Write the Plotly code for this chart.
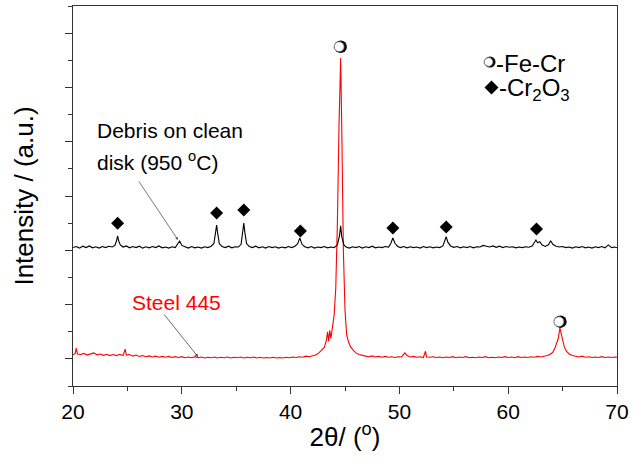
import plotly.graph_objects as go

# ---------------- data ----------------
two_theta_black = [20.0, 20.3, 20.6, 20.9, 21.2, 21.5, 21.8, 22.1, 22.4, 22.7, 23.0, 23.3, 23.6, 23.85, 24.0, 24.1, 24.2, 24.35,
                   24.6, 24.9, 25.2, 25.5, 25.8, 26.1, 26.4, 26.7, 27.0, 27.3, 27.6, 27.9, 28.2, 28.5, 28.8, 29.1, 29.4, 29.6,
                   29.8, 30.0, 30.3, 30.6, 30.9, 31.2, 31.5, 31.8, 32.1, 32.4, 32.7, 32.95, 33.1, 33.2, 33.3, 33.45, 33.7,
                   34.0, 34.3, 34.6, 34.9, 35.2, 35.45, 35.6, 35.7, 35.8, 35.95, 36.2, 36.5, 36.8, 37.1, 37.4, 37.7, 38.0,
                   38.3, 38.6, 38.9, 39.2, 39.5, 39.8, 40.1, 40.4, 40.65, 40.85, 41.05, 41.3, 41.6, 41.9, 42.2, 42.5, 42.8,
                   43.1, 43.4, 43.7, 44.0, 44.3, 44.5, 44.6, 44.7, 44.9, 45.1, 45.4, 45.7, 46.0, 46.3, 46.6, 46.9, 47.2,
                   47.5, 47.8, 48.1, 48.4, 48.7, 49.0, 49.2, 49.4, 49.6, 49.85, 50.1, 50.4, 50.7, 51.0, 51.3, 51.6, 51.9,
                   52.2, 52.5, 52.8, 53.1, 53.4, 53.7, 54.0, 54.2, 54.3, 54.45, 54.7, 55.0, 55.3, 55.6, 55.9, 56.2, 56.5,
                   56.8, 57.1, 57.4, 57.7, 58.0, 58.3, 58.6, 58.9, 59.2, 59.5, 59.8, 60.1, 60.4, 60.7, 61.0, 61.3, 61.6,
                   61.9, 62.2, 62.4, 62.55, 62.7, 62.9, 63.1, 63.4, 63.7, 63.9, 64.1, 64.4, 64.7, 65.0, 65.3, 65.6, 65.9,
                   66.2, 66.5, 66.8, 67.1, 67.4, 67.7, 68.0, 68.3, 68.6, 68.9, 69.2, 69.5, 69.8, 70.0]
intensity_black = [5.10, 5.14, 5.08, 5.15, 5.10, 5.16, 5.09, 5.13, 5.08, 5.14, 5.10, 5.15, 5.12, 5.18, 5.35, 5.53, 5.34, 5.20,
                   5.12, 5.16, 5.09, 5.14, 5.10, 5.15, 5.08, 5.13, 5.09, 5.14, 5.10, 5.16, 5.09, 5.12, 5.08, 5.13, 5.10, 5.20,
                   5.34, 5.18, 5.12, 5.08, 5.14, 5.09, 5.12, 5.08, 5.13, 5.10, 5.15, 5.25, 5.65, 5.93, 5.62, 5.24, 5.14,
                   5.10, 5.15, 5.09, 5.13, 5.12, 5.22, 5.70, 6.00, 5.65, 5.25, 5.14, 5.10, 5.15, 5.09, 5.13, 5.08, 5.14,
                   5.10, 5.13, 5.08, 5.12, 5.09, 5.14, 5.10, 5.15, 5.24, 5.45, 5.22, 5.13, 5.09, 5.14, 5.08, 5.12, 5.10,
                   5.14, 5.09, 5.12, 5.10, 5.20, 5.55, 5.90, 5.50, 5.20, 5.12, 5.08, 5.13, 5.10, 5.14, 5.08, 5.13, 5.10,
                   5.15, 5.09, 5.12, 5.10, 5.14, 5.12, 5.24, 5.45, 5.25, 5.14, 5.10, 5.14, 5.09, 5.13, 5.10, 5.12, 5.08,
                   5.14, 5.10, 5.13, 5.09, 5.12, 5.10, 5.16, 5.35, 5.50, 5.30, 5.16, 5.11, 5.14, 5.09, 5.13, 5.10, 5.14,
                   5.09, 5.13, 5.12, 5.18, 5.15, 5.12, 5.16, 5.11, 5.15, 5.10, 5.14, 5.11, 5.13, 5.09, 5.12, 5.10, 5.13,
                   5.11, 5.16, 5.30, 5.38, 5.28, 5.32, 5.20, 5.14, 5.20, 5.35, 5.22, 5.15, 5.12, 5.14, 5.10, 5.12, 5.08,
                   5.13, 5.10, 5.14, 5.09, 5.12, 5.08, 5.13, 5.10, 5.14, 5.09, 5.20, 5.10, 5.12, 5.09]

two_theta_red = [20.0, 20.2, 20.3, 20.4, 20.7, 21.0, 21.3, 21.6, 21.9, 22.2, 22.5, 22.8, 23.1, 23.4, 23.7, 24.0, 24.3, 24.6,
                 24.8, 24.9, 25.2, 25.5, 25.8, 26.1, 26.4, 26.7, 27.0, 27.3, 27.6, 27.9, 28.2, 28.5, 28.8, 29.1, 29.4, 29.7,
                 30.0, 30.3, 30.6, 30.9, 31.2, 31.5, 31.8, 32.1, 32.4, 32.7, 33.0, 33.3, 33.6, 33.9, 34.2, 34.5, 34.8,
                 35.1, 35.4, 35.7, 36.0, 36.3, 36.6, 36.9, 37.2, 37.5, 37.8, 38.1, 38.4, 38.7, 39.0, 39.3, 39.6, 39.9,
                 40.2, 40.5, 40.8, 41.1, 41.4, 41.7, 42.0, 42.3, 42.6, 42.9, 43.1, 43.3, 43.4, 43.5, 43.6, 43.7, 43.85,
                 44.0, 44.15, 44.3, 44.45, 44.6, 44.72, 44.85, 45.0, 45.15, 45.3, 45.5, 45.75, 46.0, 46.3, 46.6, 46.9,
                 47.2, 47.5, 47.8, 48.1, 48.4, 48.7, 49.0, 49.3, 49.6, 49.9, 50.2, 50.5, 50.7, 51.0, 51.3, 51.6, 51.9,
                 52.2, 52.4, 52.5, 52.8, 53.1, 53.4, 53.7, 54.0, 54.3, 54.6, 54.9, 55.2, 55.5, 55.8, 56.1, 56.4, 56.7,
                 57.0, 57.3, 57.6, 57.9, 58.2, 58.5, 58.8, 59.1, 59.4, 59.7, 60.0, 60.3, 60.6, 60.9, 61.2, 61.5, 61.8,
                 62.1, 62.4, 62.7, 63.0, 63.3, 63.6, 63.9, 64.1, 64.3, 64.45, 64.6, 64.75, 64.85, 65.0, 65.15, 65.35,
                 65.6, 65.9, 66.2, 66.5, 66.8, 67.1, 67.4, 67.7, 68.0, 68.3, 68.6, 68.9, 69.2, 69.5, 69.8, 70.0]
intensity_red = [1.15, 1.20, 1.40, 1.18, 1.16, 1.20, 1.14, 1.18, 1.22, 1.15, 1.18, 1.13, 1.17, 1.12, 1.16, 1.12, 1.17, 1.12,
                 1.36, 1.14, 1.16, 1.10, 1.14, 1.09, 1.12, 1.08, 1.11, 1.07, 1.10, 1.06, 1.09, 1.06, 1.09, 1.05, 1.08, 1.05,
                 1.08, 1.04, 1.07, 1.04, 1.08, 1.04, 1.07, 1.03, 1.06, 1.04, 1.07, 1.03, 1.06, 1.04, 1.07, 1.03, 1.06,
                 1.04, 1.07, 1.03, 1.06, 1.04, 1.07, 1.03, 1.06, 1.03, 1.05, 1.03, 1.06, 1.03, 1.05, 1.03, 1.06, 1.04,
                 1.07, 1.05, 1.08, 1.06, 1.10, 1.08, 1.12, 1.14, 1.22, 1.35, 1.42, 1.70, 2.00, 1.65, 2.05, 1.75, 2.30,
                 2.60, 3.60, 6.00, 9.60, 12.08, 9.00, 5.00, 2.80, 1.90, 1.65, 1.45, 1.32, 1.22, 1.16, 1.12, 1.10,
                 1.08, 1.11, 1.07, 1.09, 1.06, 1.09, 1.06, 1.08, 1.05, 1.08, 1.07, 1.22, 1.12, 1.07, 1.09, 1.06, 1.08,
                 1.05, 1.28, 1.07, 1.06, 1.08, 1.05, 1.07, 1.04, 1.07, 1.05, 1.08, 1.04, 1.07, 1.05, 1.08, 1.04, 1.06,
                 1.04, 1.07, 1.05, 1.08, 1.04, 1.06, 1.04, 1.07, 1.05, 1.08, 1.05, 1.07, 1.04, 1.08, 1.05, 1.07, 1.05,
                 1.08, 1.06, 1.09, 1.07, 1.10, 1.12, 1.18, 1.25, 1.40, 1.55, 1.75, 2.14, 1.95, 1.62, 1.45, 1.28,
                 1.18, 1.12, 1.09, 1.07, 1.10, 1.06, 1.08, 1.05, 1.07, 1.05, 1.08, 1.05, 1.07, 1.05, 1.07, 1.06]

cr2o3_theta = [24.1, 33.2, 35.7, 40.9, 49.4, 54.3, 62.6]
cr2o3_marker_y = [6.00, 6.37, 6.48, 5.71, 5.82, 5.86, 5.78]
fecr_theta = [44.6, 64.8]
fecr_marker_y = [12.5, 2.37]

x_range = [20, 70]
y_range = [0, 14]
x_ticks = [20, 30, 40, 50, 60, 70]

# ---------------- figure ----------------
FONT = "Liberation Sans, Arial, sans-serif"
fig = go.Figure()

fig.add_trace(go.Scatter(x=two_theta_red, y=intensity_red, mode="lines",
                         line=dict(color="#ff0000", width=1.1), showlegend=False))
fig.add_trace(go.Scatter(x=two_theta_black, y=intensity_black, mode="lines",
                         line=dict(color="#000000", width=1.1), showlegend=False))

fig.add_trace(go.Scatter(x=cr2o3_theta, y=cr2o3_marker_y, mode="markers",
                         marker=dict(symbol="diamond", size=10, color="black"), showlegend=False))

px_per_deg = 544 / (x_range[1] - x_range[0])
shift = 1.5 / px_per_deg
fig.add_trace(go.Scatter(x=fecr_theta, y=fecr_marker_y, mode="markers",
                         marker=dict(symbol="circle", size=12.5, color="black"), showlegend=False))
fig.add_trace(go.Scatter(x=[t - shift for t in fecr_theta], y=fecr_marker_y, mode="markers",
                         marker=dict(symbol="circle", size=10, color="white",
                                     line=dict(color="#555555", width=0.8)), showlegend=False))

# annotations: labels and arrows
fig.add_annotation(x=22.0, y=9.40, xref="x", yref="y", text="Debris on clean", showarrow=False,
                   xanchor="left", yanchor="middle", font=dict(family=FONT, size=21, color="black"))
fig.add_annotation(x=22.0, y=8.30, xref="x", yref="y", text="disk (950 <sup>o</sup>C)", showarrow=False,
                   xanchor="left", yanchor="middle", font=dict(family=FONT, size=21, color="black"))
fig.add_annotation(x=29.65, y=5.38, ax=25.97, ay=7.59, xref="x", yref="y", axref="x", ayref="y",
                   text="", showarrow=True, arrowhead=2, arrowsize=0.7, arrowwidth=0.8, arrowcolor="#555555")

fig.add_annotation(x=25.2, y=3.06, xref="x", yref="y", text="Steel 445", showarrow=False,
                   xanchor="left", yanchor="middle", font=dict(family=FONT, size=21, color="#ff0000"))
fig.add_annotation(x=31.5, y=1.07, ax=28.27, ay=2.69, xref="x", yref="y", axref="x", ayref="y",
                   text="", showarrow=True, arrowhead=2, arrowsize=0.8, arrowwidth=0.8, arrowcolor="#444444")

# legend (custom)
def px2paper(px, py):
    return (px - 73) / 544, (386 - py) / 380

lx1, ly1 = px2paper(490, 62)
lx2, ly2 = px2paper(491.5, 87.5)
fig.add_shape(type="circle", xref="paper", yref="paper", xsizemode="pixel", ysizemode="pixel",
              xanchor=lx1, yanchor=ly1, x0=-5.5, x1=5.5, y0=-5.5, y1=5.5,
              fillcolor="black", line=dict(width=0))
fig.add_shape(type="circle", xref="paper", yref="paper", xsizemode="pixel", ysizemode="pixel",
              xanchor=lx1, yanchor=ly1, x0=-5.8, x1=3.0, y0=-4.4, y1=4.4,
              fillcolor="white", line=dict(width=0.8, color="#555555"))
fig.add_shape(type="path", xref="paper", yref="paper", xsizemode="pixel", ysizemode="pixel",
              xanchor=lx2, yanchor=ly2, path="M -7 0 L 0 -7 L 7 0 L 0 7 Z",
              fillcolor="black", line=dict(width=0))
tx1, ty1 = px2paper(494, 63.5)
tx2, ty2 = px2paper(497, 89)
fig.add_annotation(x=tx1, y=ty1, xref="paper", yref="paper", text="-Fe-Cr", showarrow=False,
                   xanchor="left", yanchor="middle", font=dict(family=FONT, size=24, color="black"))
fig.add_annotation(x=tx2, y=ty2, xref="paper", yref="paper", text="-Cr<sub>2</sub>O<sub>3</sub>",
                   showarrow=False, xanchor="left", yanchor="middle",
                   font=dict(family=FONT, size=24, color="black"))

axis_line = "#333333"
fig.update_layout(
    width=634, height=464,
    margin=dict(l=73, r=17, t=6, b=78, autoexpand=False),
    plot_bgcolor="white", paper_bgcolor="white",
    font=dict(family=FONT, size=21, color="black"),
    xaxis=dict(range=x_range, tickvals=x_ticks, ticks="outside", ticklen=7, tickwidth=1.3,
               tickcolor=axis_line, showline=True, linecolor=axis_line, linewidth=1.3, mirror=True,
               showgrid=False, zeroline=False, tickfont=dict(size=21), automargin=False,
               minor=dict(dtick=5, tick0=20, ticks="outside", ticklen=3.5, tickwidth=1.3, tickcolor=axis_line),
               title=dict(text="2θ/ (<sup>o</sup>)", font=dict(size=26), standoff=5)),
    yaxis=dict(range=y_range, tickvals=[1, 3, 5, 7, 9, 11, 13], ticks="outside", ticklen=7, tickwidth=1.3,
               tickcolor=axis_line, showline=True, linecolor=axis_line, linewidth=1.3, mirror=True,
               showgrid=False, zeroline=False, showticklabels=False, automargin=False,
               minor=dict(dtick=1, tick0=0, ticks="outside", ticklen=3.5, tickwidth=1.3, tickcolor=axis_line),
               title=dict(text="Intensity / (a.u.)", font=dict(size=26), standoff=23)),
)

fig.write_html("out.html", config={"displayModeBar": False},
               post_script="document.body.style.margin='0';document.body.style.overflow='hidden';")
